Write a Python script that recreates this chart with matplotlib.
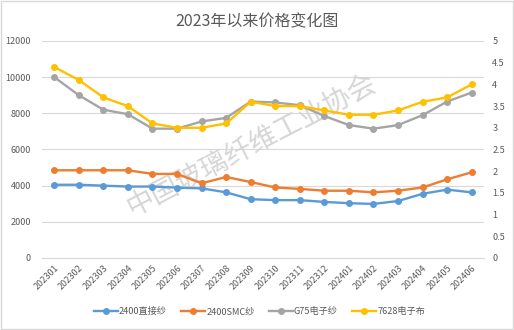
import matplotlib.pyplot as plt
from matplotlib.patches import Rectangle

plt.rcParams['font.family'] = ['Noto Sans CJK SC', 'DejaVu Sans']

months = ['202301', '202302', '202303', '202304', '202305', '202306', '202307', '202308', '202309',
          '202310', '202311', '202312', '202401', '202402', '202403', '202404', '202405', '202406']
direct_2400 = [4050, 4050, 4000, 3950, 3950, 3890, 3850, 3630, 3250,
               3200, 3200, 3100, 3030, 2990, 3150, 3550, 3780, 3630]
smc_2400 = [4850, 4850, 4850, 4850, 4650, 4650, 4130, 4480, 4200,
            3900, 3820, 3720, 3720, 3630, 3720, 3900, 4350, 4740]
g75 = [10000, 9000, 8200, 7950, 7150, 7150, 7550, 7750, 8650,
       8600, 8450, 7850, 7350, 7150, 7350, 7900, 8650, 9150]
cloth_7628 = [4.4, 4.1, 3.7, 3.5, 3.1, 3.0, 3.0, 3.1, 3.6,
              3.5, 3.5, 3.4, 3.3, 3.3, 3.4, 3.6, 3.7, 4.0]

txt = '#595959'
fig = plt.figure(figsize=(5.14, 3.30), dpi=100)
ax = fig.add_axes([0.0817, 0.2182, 0.8599, 0.6576])
ax2 = ax.twinx()

x = list(range(len(months)))
kw = dict(marker='o', markersize=4, linewidth=1.7)
l1, = ax.plot(x, direct_2400, color='#5B9BD5', label='2400直接纱', **kw)
l2, = ax.plot(x, smc_2400, color='#ED7D31', label='2400SMC纱', **kw)
l3, = ax.plot(x, g75, color='#A5A5A5', label='G75电子纱', **kw)
l4, = ax2.plot(x, cloth_7628, color='#FFC000', label='7628电子布', **kw)

ax.set_ylim(0, 12000)
ax.set_yticks(range(0, 12001, 2000))
ax2.set_ylim(0, 5)
ax2.set_yticks([i * 0.5 for i in range(11)])
ax2.set_yticklabels(['0', '0.5', '1', '1.5', '2', '2.5', '3', '3.5', '4', '4.5', '5'])
ax.set_xlim(-0.5, len(months) - 0.5)
ax.set_xticks(x)
ax.set_xticklabels(months, rotation=45, ha='right', rotation_mode='anchor')

ax.grid(axis='y', color='#D9D9D9', linewidth=0.8)
ax.set_axisbelow(True)
for a in (ax, ax2):
    for s in a.spines.values():
        s.set_visible(False)
    a.tick_params(length=0, labelsize=6.5, colors=txt)
ax.spines['bottom'].set_visible(True)
ax.spines['bottom'].set_color('#D9D9D9')
ax.tick_params(axis='y', pad=8)
ax2.tick_params(axis='y', pad=6)
ax.tick_params(axis='x', pad=4)

fig.text(0.5, 0.933, '2023年以来价格变化图', ha='center', va='center', fontsize=11.5, color=txt)
# watermark under the lines
ax.text(0.49, 0.56, '中国玻璃纤维工业协会', transform=fig.transFigure, ha='center', va='center',
        fontsize=20, rotation=27.5, color='#D6D6D6', fontweight='light', zorder=1)

fig.legend(handles=[l1, l2, l3, l4], loc='center', bbox_to_anchor=(0.505, 0.055), ncol=4,
           frameon=False, fontsize=6.6, labelcolor=txt, handlelength=2.6, handletextpad=0.1,
           columnspacing=1.6)

fig.patches.append(Rectangle((0.002, 0.003), 0.996, 0.994, transform=fig.transFigure,
                             fill=False, edgecolor='#D9D9D9', linewidth=1))

fig.savefig('out.png', dpi=100)
